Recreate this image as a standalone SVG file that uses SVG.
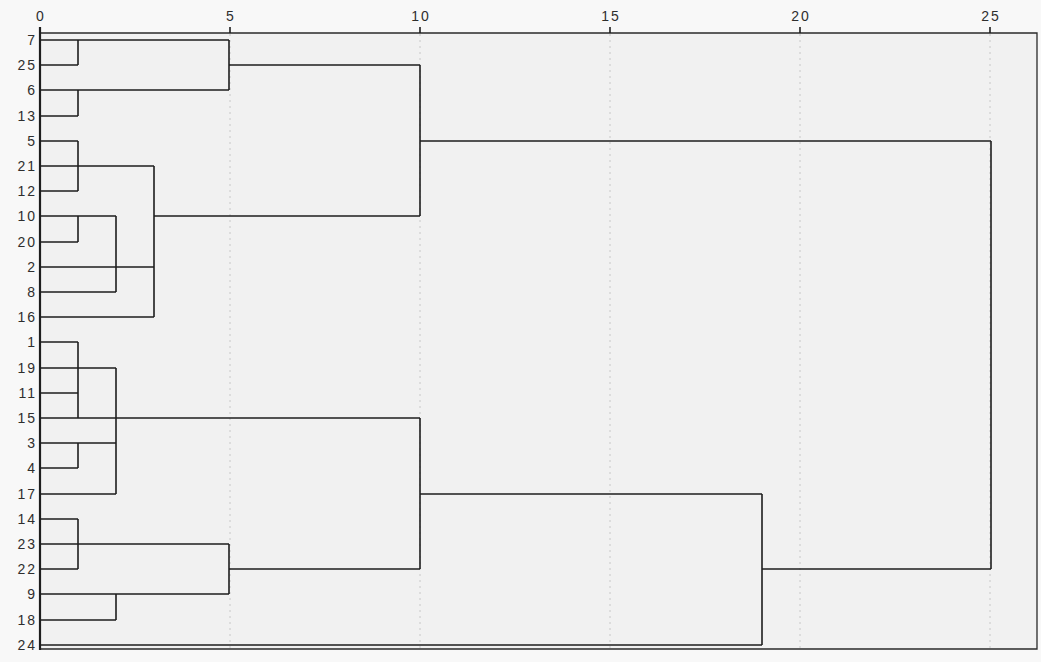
<svg xmlns="http://www.w3.org/2000/svg" width="1041" height="662" viewBox="0 0 1041 662">
<style>
.lbl{font-family:"Liberation Sans",Arial,sans-serif;font-size:14px;fill:#2e2e2e;letter-spacing:2px}
.row{text-anchor:end}
.tick{text-anchor:middle}
.ln{fill:none;stroke:#1e1e1e;stroke-width:1.6}
.grid{stroke:#c8c8c8;stroke-width:1;stroke-dasharray:2 4}
</style>
<rect x="0" y="0" width="1041" height="662" fill="#f8f8f8"/>
<rect x="40" y="33" width="997" height="616" fill="#f1f1f1"/>
<g id="grid">
<line class="grid" x1="230" y1="34" x2="230" y2="648"/>
<line class="grid" x1="420" y1="34" x2="420" y2="648"/>
<line class="grid" x1="610" y1="34" x2="610" y2="648"/>
<line class="grid" x1="800" y1="34" x2="800" y2="648"/>
<line class="grid" x1="990" y1="34" x2="990" y2="648"/>
</g>
<g id="axis">
<path d="M40,33 H1037 V649 H40" fill="none" stroke="#2a2a2a" stroke-width="1.3"/>
<line x1="40" y1="27" x2="40" y2="650" stroke="#1e1e1e" stroke-width="2.2"/>
<path d="M230,27 V33 M420,27 V33 M610,27 V33 M800,27 V33 M990,27 V33" stroke="#1e1e1e" stroke-width="1.6"/>
<text class="lbl tick" x="41" y="21">0</text>
<text class="lbl tick" x="231" y="21">5</text>
<text class="lbl tick" x="421" y="21">10</text>
<text class="lbl tick" x="611" y="21">15</text>
<text class="lbl tick" x="801" y="21">20</text>
<text class="lbl tick" x="991" y="21">25</text>
</g>
<g id="labels">
<text class="lbl row" x="37" y="45">7</text>
<text class="lbl row" x="37" y="70">25</text>
<text class="lbl row" x="37" y="95">6</text>
<text class="lbl row" x="37" y="121">13</text>
<text class="lbl row" x="37" y="146">5</text>
<text class="lbl row" x="37" y="171">21</text>
<text class="lbl row" x="37" y="196">12</text>
<text class="lbl row" x="37" y="221">10</text>
<text class="lbl row" x="37" y="247">20</text>
<text class="lbl row" x="37" y="272">2</text>
<text class="lbl row" x="37" y="297">8</text>
<text class="lbl row" x="37" y="322">16</text>
<text class="lbl row" x="37" y="347">1</text>
<text class="lbl row" x="37" y="373">19</text>
<text class="lbl row" x="37" y="398">11</text>
<text class="lbl row" x="37" y="423">15</text>
<text class="lbl row" x="37" y="448">3</text>
<text class="lbl row" x="37" y="473">4</text>
<text class="lbl row" x="37" y="499">17</text>
<text class="lbl row" x="37" y="524">14</text>
<text class="lbl row" x="37" y="549">23</text>
<text class="lbl row" x="37" y="574">22</text>
<text class="lbl row" x="37" y="599">9</text>
<text class="lbl row" x="37" y="625">18</text>
<text class="lbl row" x="37" y="650">24</text>
</g>
<g id="connectors">
<path class="ln" d="M40,40 H229 M40,65 H78 M78,40 V65 M40,90 H229 M40,116 H78 M78,90 V116 M229,65 H420 M420,141 H991"/>
<path class="ln" d="M229,40 V90 M420,65 V216" stroke-width="2.2"/>
<path class="ln" d="M40,141 H78 M40,166 H154 M40,191 H78 M78,141 V191 M40,216 H116 M40,242 H78 M78,216 V242 M40,267 H154 M40,292 H116 M116,216 V292 M154,166 V317 M40,317 H154 M154,216 H420"/>
<path class="ln" d="M40,342 H78 M40,368 H116 M40,393 H78 M40,418 H420 M78,342 V418 M40,443 H116 M40,468 H78 M78,443 V468 M40,494 H116 M116,368 V494 M420,418 V569 M420,494 H762"/>
<path class="ln" d="M40,519 H78 M40,544 H229 M40,569 H78 M78,519 V569 M40,594 H229 M40,620 H116 M116,594 V620 M229,569 H420 M40,645 H762 M762,494 V645 M762,569 H991 M991,141 V569"/>
<path class="ln" d="M229,544 V594" stroke-width="2.4"/>
</g>
</svg>
